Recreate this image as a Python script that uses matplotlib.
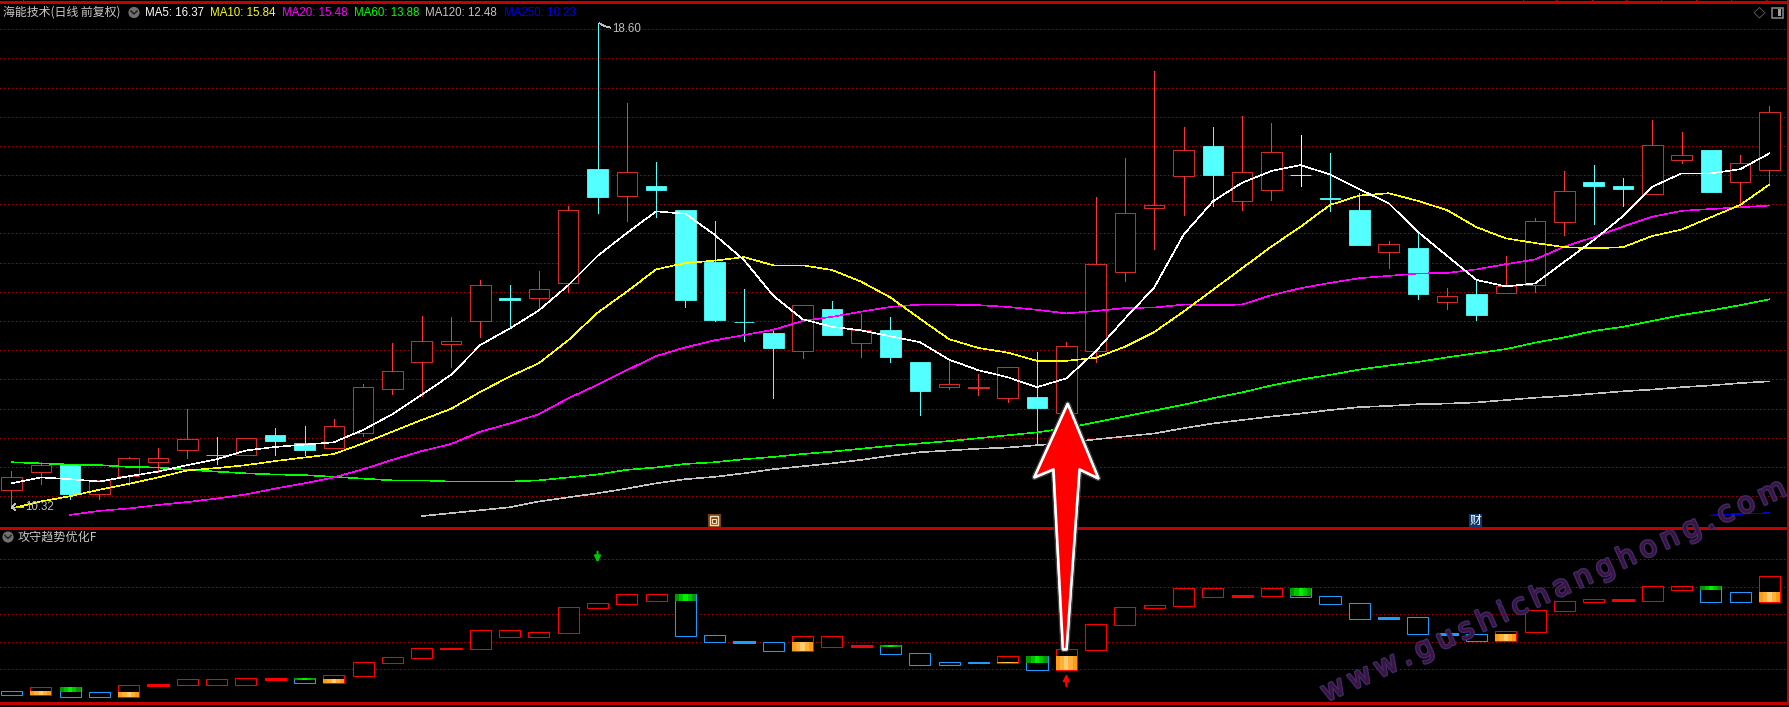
import numpy as np
import matplotlib
matplotlib.use('Agg')
import matplotlib.pyplot as plt
from matplotlib.patches import Circle, Polygon, Rectangle
import matplotlib.patheffects as pe

W, H = 1790, 707
CN = ['Noto Sans CJK SC', 'DejaVu Sans']
LAT = 'Liberation Sans'

# candles, one per trading day (top/bottom of body are close/open depending on colour)
opens = [10.63, 10.94, 11.06, 10.56, 10.87, 11.11, 11.31, 11.23, 11.22, 11.56, 11.42, 11.35, 11.60, 12.35, 12.81,
         13.12, 13.51, 13.90, 13.91, 14.16, 16.10, 15.65, 15.81, 15.40, 14.52, 13.50, 13.30, 13.00, 13.71, 13.14,
         13.36, 12.81, 12.39, 12.37, 12.20, 12.21, 11.94, 13.00, 14.35, 15.44, 15.99, 16.50, 15.55, 15.75, 16.00,
         15.61, 15.40, 14.69, 14.75, 13.84, 13.97, 13.99, 14.12, 15.20, 15.88, 15.81, 15.67, 16.25, 16.43, 15.89,
         16.09]
closes = [10.84, 11.06, 10.56, 10.80, 11.17, 11.18, 11.49, 11.22, 11.52, 11.46, 11.31, 11.71, 12.39, 12.65, 13.16,
          13.16, 14.12, 13.86, 14.05, 15.40, 15.63, 16.06, 15.75, 13.87, 13.53, 13.49, 13.05, 13.79, 13.27, 13.35,
          12.89, 12.31, 12.43, 12.38, 12.72, 12.02, 13.08, 14.48, 15.36, 15.49, 16.42, 16.00, 16.05, 16.40, 16.00,
          15.60, 14.80, 14.82, 13.97, 13.93, 13.61, 14.10, 15.21, 15.72, 15.81, 15.76, 16.52, 16.35, 15.71, 16.20,
          17.07]
highs = [10.95, 11.10, 11.06, 10.80, 11.19, 11.34, 12.01, 11.53, 11.52, 11.68, 11.72, 11.84, 12.43, 13.13, 13.59,
         13.58, 14.21, 14.12, 14.36, 15.47, 18.60, 17.23, 16.22, 15.40, 15.22, 14.05, 13.36, 13.79, 13.85, 13.63,
         13.58, 12.81, 12.85, 12.60, 12.72, 12.98, 13.15, 15.62, 16.29, 17.78, 16.82, 16.82, 17.00, 16.89, 16.68,
         16.38, 15.69, 14.87, 15.02, 14.07, 14.19, 14.62, 15.27, 16.07, 16.17, 15.95, 16.94, 16.73, 16.43, 16.34,
         17.18]
lows = [10.32, 10.73, 10.48, 10.48, 10.71, 10.94, 11.18, 11.07, 11.22, 11.22, 11.22, 11.35, 11.55, 12.26, 12.23,
        12.72, 13.24, 13.41, 13.73, 14.00, 15.35, 15.22, 15.29, 13.74, 13.51, 13.17, 12.20, 12.87, 13.27, 12.89,
        12.81, 11.90, 12.35, 12.25, 12.13, 11.39, 11.94, 12.81, 14.20, 14.74, 15.32, 15.48, 15.41, 15.58, 15.82,
        15.38, 14.80, 14.41, 13.88, 13.71, 13.53, 13.98, 14.01, 14.98, 15.17, 15.48, 15.67, 16.21, 15.71, 15.52,
        15.83]

ma5 = [10.74, 10.84, 10.81, 10.77, 10.86, 10.94, 11.05, 11.15, 11.30, 11.36, 11.40, 11.44, 11.65, 11.92, 12.25,
       12.59, 13.10, 13.38, 13.69, 14.12, 14.62, 15.01, 15.38, 15.34, 14.98, 14.55, 13.94, 13.54, 13.41, 13.35,
       13.25, 13.15, 12.85, 12.67, 12.55, 12.38, 12.53, 12.99, 13.55, 14.08, 14.98, 15.55, 15.87, 16.07, 16.17,
       16.01, 15.76, 15.52, 15.03, 14.62, 14.21, 14.10, 14.15, 14.52, 14.89, 15.30, 15.80, 16.03, 16.03, 16.10,
       16.37]
ma10 = [10.31, 10.43, 10.52, 10.63, 10.73, 10.84, 10.96, 11.00, 11.05, 11.12, 11.18, 11.24, 11.42, 11.62, 11.82,
        12.01, 12.30, 12.56, 12.79, 13.18, 13.65, 14.01, 14.39, 14.50, 14.54, 14.60, 14.46, 14.46, 14.38, 14.18,
        13.91, 13.55, 13.20, 13.05, 12.97, 12.83, 12.83, 12.88, 13.07, 13.32, 13.67, 14.04, 14.41, 14.78, 15.12,
        15.49, 15.65, 15.69, 15.56, 15.40, 15.11, 14.92, 14.84, 14.77, 14.75, 14.77, 14.96, 15.07, 15.28, 15.49,
        15.84]
ma20 = [np.nan, np.nan, 10.20, 10.27, 10.31, 10.37, 10.42, 10.48, 10.55, 10.65, 10.74, 10.84, 10.98, 11.14, 11.29,
        11.41, 11.62, 11.76, 11.92, 12.19, 12.42, 12.67, 12.91, 13.06, 13.18, 13.27, 13.36, 13.51, 13.58, 13.67,
        13.75, 13.79, 13.79, 13.78, 13.75, 13.70, 13.64, 13.68, 13.73, 13.74, 13.79, 13.78, 13.79, 13.95, 14.07,
        14.16, 14.24, 14.28, 14.32, 14.33, 14.39, 14.48, 14.56, 14.78, 14.94, 15.12, 15.29, 15.39, 15.42, 15.45,
        15.48]
ma60 = [11.10, 11.08, 11.06, 11.05, 11.02, 11.01, 10.97, 10.94, 10.91, 10.89, 10.88, 10.85, 10.82, 10.79, 10.79,
        10.77, 10.77, 10.77, 10.79, 10.84, 10.89, 10.97, 11.01, 11.07, 11.10, 11.15, 11.19, 11.24, 11.28, 11.33,
        11.38, 11.42, 11.46, 11.51, 11.56, 11.61, 11.68, 11.78, 11.88, 11.98, 12.08, 12.19, 12.29, 12.41, 12.51,
        12.59, 12.68, 12.75, 12.81, 12.89, 12.96, 13.03, 13.14, 13.23, 13.34, 13.41, 13.51, 13.61, 13.69, 13.78,
        13.88]
ma120 = [np.nan] * 14 + [10.18, 10.23, 10.28, 10.33, 10.43, 10.50, 10.57, 10.65, 10.74, 10.81, 10.85, 10.91, 10.98,
                         11.03, 11.08, 11.14, 11.21, 11.27, 11.30, 11.33, 11.35, 11.39, 11.43, 11.49, 11.54, 11.59,
                         11.68, 11.76, 11.82, 11.88, 11.93, 11.99, 12.04, 12.06, 12.09, 12.10, 12.12, 12.16, 12.20,
                         12.23, 12.27, 12.31, 12.34, 12.38, 12.41, 12.45, 12.48]
ma250 = [np.nan] * 58 + [10.19, 10.22, 10.23]

# lower indicator bars
bar_tops = [-8.0, -6.55, -6.42, -8.36, -5.82, -5.33, -3.64, -3.64, -3.27, -3.15, -3.15, -2.18, 2.55, 4.36, 7.64,
            7.76, 14.18, 14.18, 13.45, 22.55, 24.0, 27.27, 27.27, 27.39, 12.36, 10.30, 9.82, 12.0, 12.0, 8.85,
            8.85, 5.82, 2.55, 2.67, 4.85, 4.85, 7.27, 16.36, 22.55, 23.27, 29.45, 29.45, 27.03, 29.45, 29.58,
            26.55, 24.0, 18.91, 18.91, 13.09, 12.73, 13.82, 21.45, 24.73, 25.45, 25.45, 30.18, 30.18, 30.30, 28.0,
            33.82]
bar_bottoms = [-9.21, -9.33, -9.94, -9.94, -9.94, -5.94, -5.58, -5.58, -5.58, -3.76, -4.85, -4.85, -2.30, 2.42, 4.24,
               7.52, 7.52, 11.88, 11.88, 13.33, 22.42, 23.88, 24.97, 12.24, 10.06, 9.58, 6.79, 6.79, 8.24, 8.12,
               5.70, 1.70, 1.70, 2.42, 2.42, -0.12, -0.12, 7.15, 16.24, 22.42, 23.15, 26.42, 26.30, 26.79, 26.42,
               23.88, 18.42, 18.30, 12.97, 12.48, 10.42, 10.42, 13.70, 21.33, 24.61, 24.85, 24.97, 28.97, 24.61, 24.61,
               24.61]
bar_side = 'brbbrrrrrrbrrrrrrrrrrrrbbbbrrrbbbbrbrrrrrrrrbbbbbbbrrrrrrrbbr'
green_to = {2: -8.24, 10: -4.0, 23: 24.85, 30: 8.12, 35: 2.30, 44: 26.67, 58: 28.85}
orange_to = {1: -7.88, 4: -8.24, 11: -3.52, 27: 9.94, 34: 2.67, 36: 4.85, 51: 12.85, 60: 28.12}

price_grid = np.linspace(18.49, 10.52, 17)
bar_grid = [40, 30, 20, 10, 0]

ma_labels = ['MA5: 16.37', 'MA10: 15.84', 'MA20: 15.48', 'MA60: 13.88', 'MA120: 12.48', 'MA250: 10.23']
ma_label_x = [145, 210, 282, 354, 425, 504]
ma_colors = ['#ffffff', '#ffff00', '#ff00ff', '#00ff00', '#c4c4c4', '#0000e6']

RED = '#ff3333'
CYAN = '#54ffff'
BAR_RED = '#ff0000'
BAR_BLUE = '#1e9bff'
ORANGE = ['#ff9a14', '#ffb03c', '#ffcc70', '#ffb03c', '#ff9a14']
GREEN = ['#009a00', '#00c400', '#00f000', '#00c400', '#009a00']
GRID = '#a80000'
BORDER = '#c40000'
LW = 0.6

days = np.arange(len(closes))

fig = plt.figure(figsize=(W / 100, H / 100), dpi=100, facecolor='black')


def panel(top, bottom):
    ax = fig.add_axes([0, 1 - bottom / H, 1, (bottom - top) / H], facecolor='black')
    ax.set_xlim(-11.5 / 29.3, (W - 11.5) / 29.3)
    ax.axis('off')
    return ax


def dotted(ax, levels):
    for v in levels:
        ax.plot([-0.4, 60.6], [v, v], color=GRID, lw=LW, ls=(0, (1.2, 3.6)), antialiased=False, zorder=1)


# price panel, 58.6 px per yuan
ax = panel(2.3, 528)
ax.set_ylim(18.6 - (528 - 22.7) / 58.6, 18.6 + (22.7 - 2.3) / 58.6)
dotted(ax, price_grid)

for i in days:
    top, bot = max(opens[i], closes[i]), min(opens[i], closes[i])
    if closes[i] == opens[i]:
        col = '#ffffff'
    elif closes[i] > opens[i]:
        col = RED
    else:
        col = CYAN
    ax.vlines(i, top, highs[i], color=col, lw=LW, antialiased=False, zorder=2)
    ax.vlines(i, lows[i], bot, color=col, lw=LW, antialiased=False, zorder=2)
    face = col if closes[i] < opens[i] else 'black'
    ax.bar(i, max(top - bot, 0.004), bottom=bot, width=0.7, facecolor=face, edgecolor=col, lw=LW, zorder=3)

for vals, col in zip([ma250, ma120, ma60, ma20, ma10, ma5], ma_colors[::-1]):
    ax.plot(days, vals, color=col, lw=0.42, antialiased=False, zorder=4)

# indicator panel
ax2 = panel(528, 703.3)
ax2.set_ylim((448 - 550) / 8.25, (448 - 24) / 8.25)
dotted(ax2, bar_grid)

for i in days:
    col = BAR_RED if bar_side[i] == 'r' else BAR_BLUE
    height = bar_tops[i] - bar_bottoms[i]
    # the very flat bars read as a solid dash
    ax2.bar(i, height, bottom=bar_bottoms[i], width=0.72, facecolor=col if height < 0.8 else 'black',
            edgecolor=col, lw=LW + 0.15, zorder=3)
    if i in green_to:
        strip_lo, strip_hi, strips = green_to[i], bar_tops[i], GREEN
    elif i in orange_to:
        strip_lo, strip_hi, strips = bar_bottoms[i], orange_to[i], ORANGE
    else:
        continue
    for k, c in enumerate(strips):
        ax2.bar(i - 0.288 + k * 0.144, strip_hi - strip_lo, bottom=strip_lo, width=0.144, color=c, lw=0, zorder=4)

# small signal arrows under/over the bars
ax2.annotate('', xy=(20, 38.8), xytext=(20, 42.8),
             arrowprops=dict(arrowstyle='-|>', color='#00c800', lw=1.5, mutation_scale=9, shrinkA=0, shrinkB=0))
ax2.annotate('', xy=(36, -1.7), xytext=(36, -6.1),
             arrowprops=dict(arrowstyle='-|>', color='#ff0000', lw=1.5, mutation_scale=9, shrinkA=0, shrinkB=0))

# everything on the screen chrome goes on a pixel-sized overlay
over = fig.add_axes([0, 0, 1, 1], facecolor='none')
over.set_xlim(0, W)
over.set_ylim(H, 0)
over.axis('off')

for y in [2.3, 528, 703.3]:
    over.plot([0, 1787.7], [y, y], color=BORDER, lw=0.9, antialiased=False)
over.plot([1787.7, 1787.7], [0, 703.3], color=BORDER, lw=0.9, antialiased=False)
over.vlines([23, 1523, 1556, 1592, 1626, 1661, 1696, 1731, 1766], 0, 2.3, color=BORDER, lw=LW, antialiased=False)
over.hlines(np.arange(14.6, 700, 14.6), 1787.7, 1790, color=BORDER, lw=LW, antialiased=False)
over.add_patch(Rectangle((1788, 79), 2, 15, color='#000090', lw=0))

over.text(3, 12.5, '海能技术(日线 前复权)', color='#c8c8c8', fontsize=8.6, family=CN, va='center')
for x, label, col in zip(ma_label_x, ma_labels, ma_colors):
    over.text(x, 12.5, label, color=col, fontsize=8.3, family=LAT, va='center')
over.text(18, 537, '攻守趋势优化F', color='#c8c8c8', fontsize=8.7, family=CN, va='center')


def chevron(x, y):
    over.add_patch(Circle((x, y), 5.6, color='#707070', lw=0))
    over.plot([x - 3, x, x + 3], [y - 1.5, y + 1.5, y - 1.5], color='#202020', lw=1.1)


chevron(134, 12.5)
chevron(8, 537)

over.add_patch(Polygon([(1759.5, 7.5), (1765, 12.7), (1759.5, 18), (1754, 12.7)], fill=False, ec='#606060', lw=LW))
over.add_patch(Rectangle((1772.5, 7.5), 11, 10, fill=False, ec='#808080', lw=1.2))
over.add_patch(Rectangle((1778.5, 9), 3, 7, color='#a0a0a0', lw=0))

# high / low price tags
over.plot([600, 604, 610], [23.5, 26, 27.5], color='#c0c0c0', lw=LW, antialiased=False)
over.text(612, 28.5, '18.60', color='#c0c0c0', fontsize=8.3, family=LAT, va='center')
over.plot([12, 23], [507, 507], color='#c0c0c0', lw=LW, antialiased=False)
over.plot([15, 12, 15], [504, 507, 510], color='#c0c0c0', lw=LW, antialiased=False)
over.text(25, 507, '10.32', color='#c0c0c0', fontsize=8.3, family=LAT, va='center')

# event flags
over.add_patch(Rectangle((708, 514), 13, 13, color='#7a3f0c', lw=0))
over.add_patch(Rectangle((710, 516), 8.5, 9, fill=False, ec='#f0e0c0', lw=1.0))
over.add_patch(Rectangle((712.5, 518.5), 3.5, 4, fill=False, ec='#f0e0c0', lw=0.8))
over.add_patch(Rectangle((1469, 514), 13, 13, color='#0c3a6e', lw=0))
over.text(1475.5, 520.5, '财', color='white', fontsize=8.5, family=CN, ha='center', va='center')

# watermark, letters pulled apart with thin spaces
over.text(1326, 702, '\u2009'.join('www.gushichanghong.com'), color='#3c1240', fontsize=20.6, family='DejaVu Sans',
          rotation=24.2, rotation_mode='anchor', ha='left', va='baseline', zorder=8,
          path_effects=[pe.withStroke(linewidth=2.0, foreground='#3f2a66')])

# big red arrow pasted over the chart
big_arrow = [(1067.7, 404), (1098.3, 478.3), (1079.5, 469.3), (1066.5, 649.3), (1063, 649.3),
             (1053.5, 469.3), (1034.4, 477.3)]
over.add_patch(Polygon(big_arrow, closed=True, facecolor='#ff0000', edgecolor='white', lw=1.8, joinstyle='round',
                       zorder=9, path_effects=[pe.withStroke(linewidth=4, foreground='#404040'), pe.Normal()]))

fig.savefig('out.png', dpi=100, facecolor='black')
